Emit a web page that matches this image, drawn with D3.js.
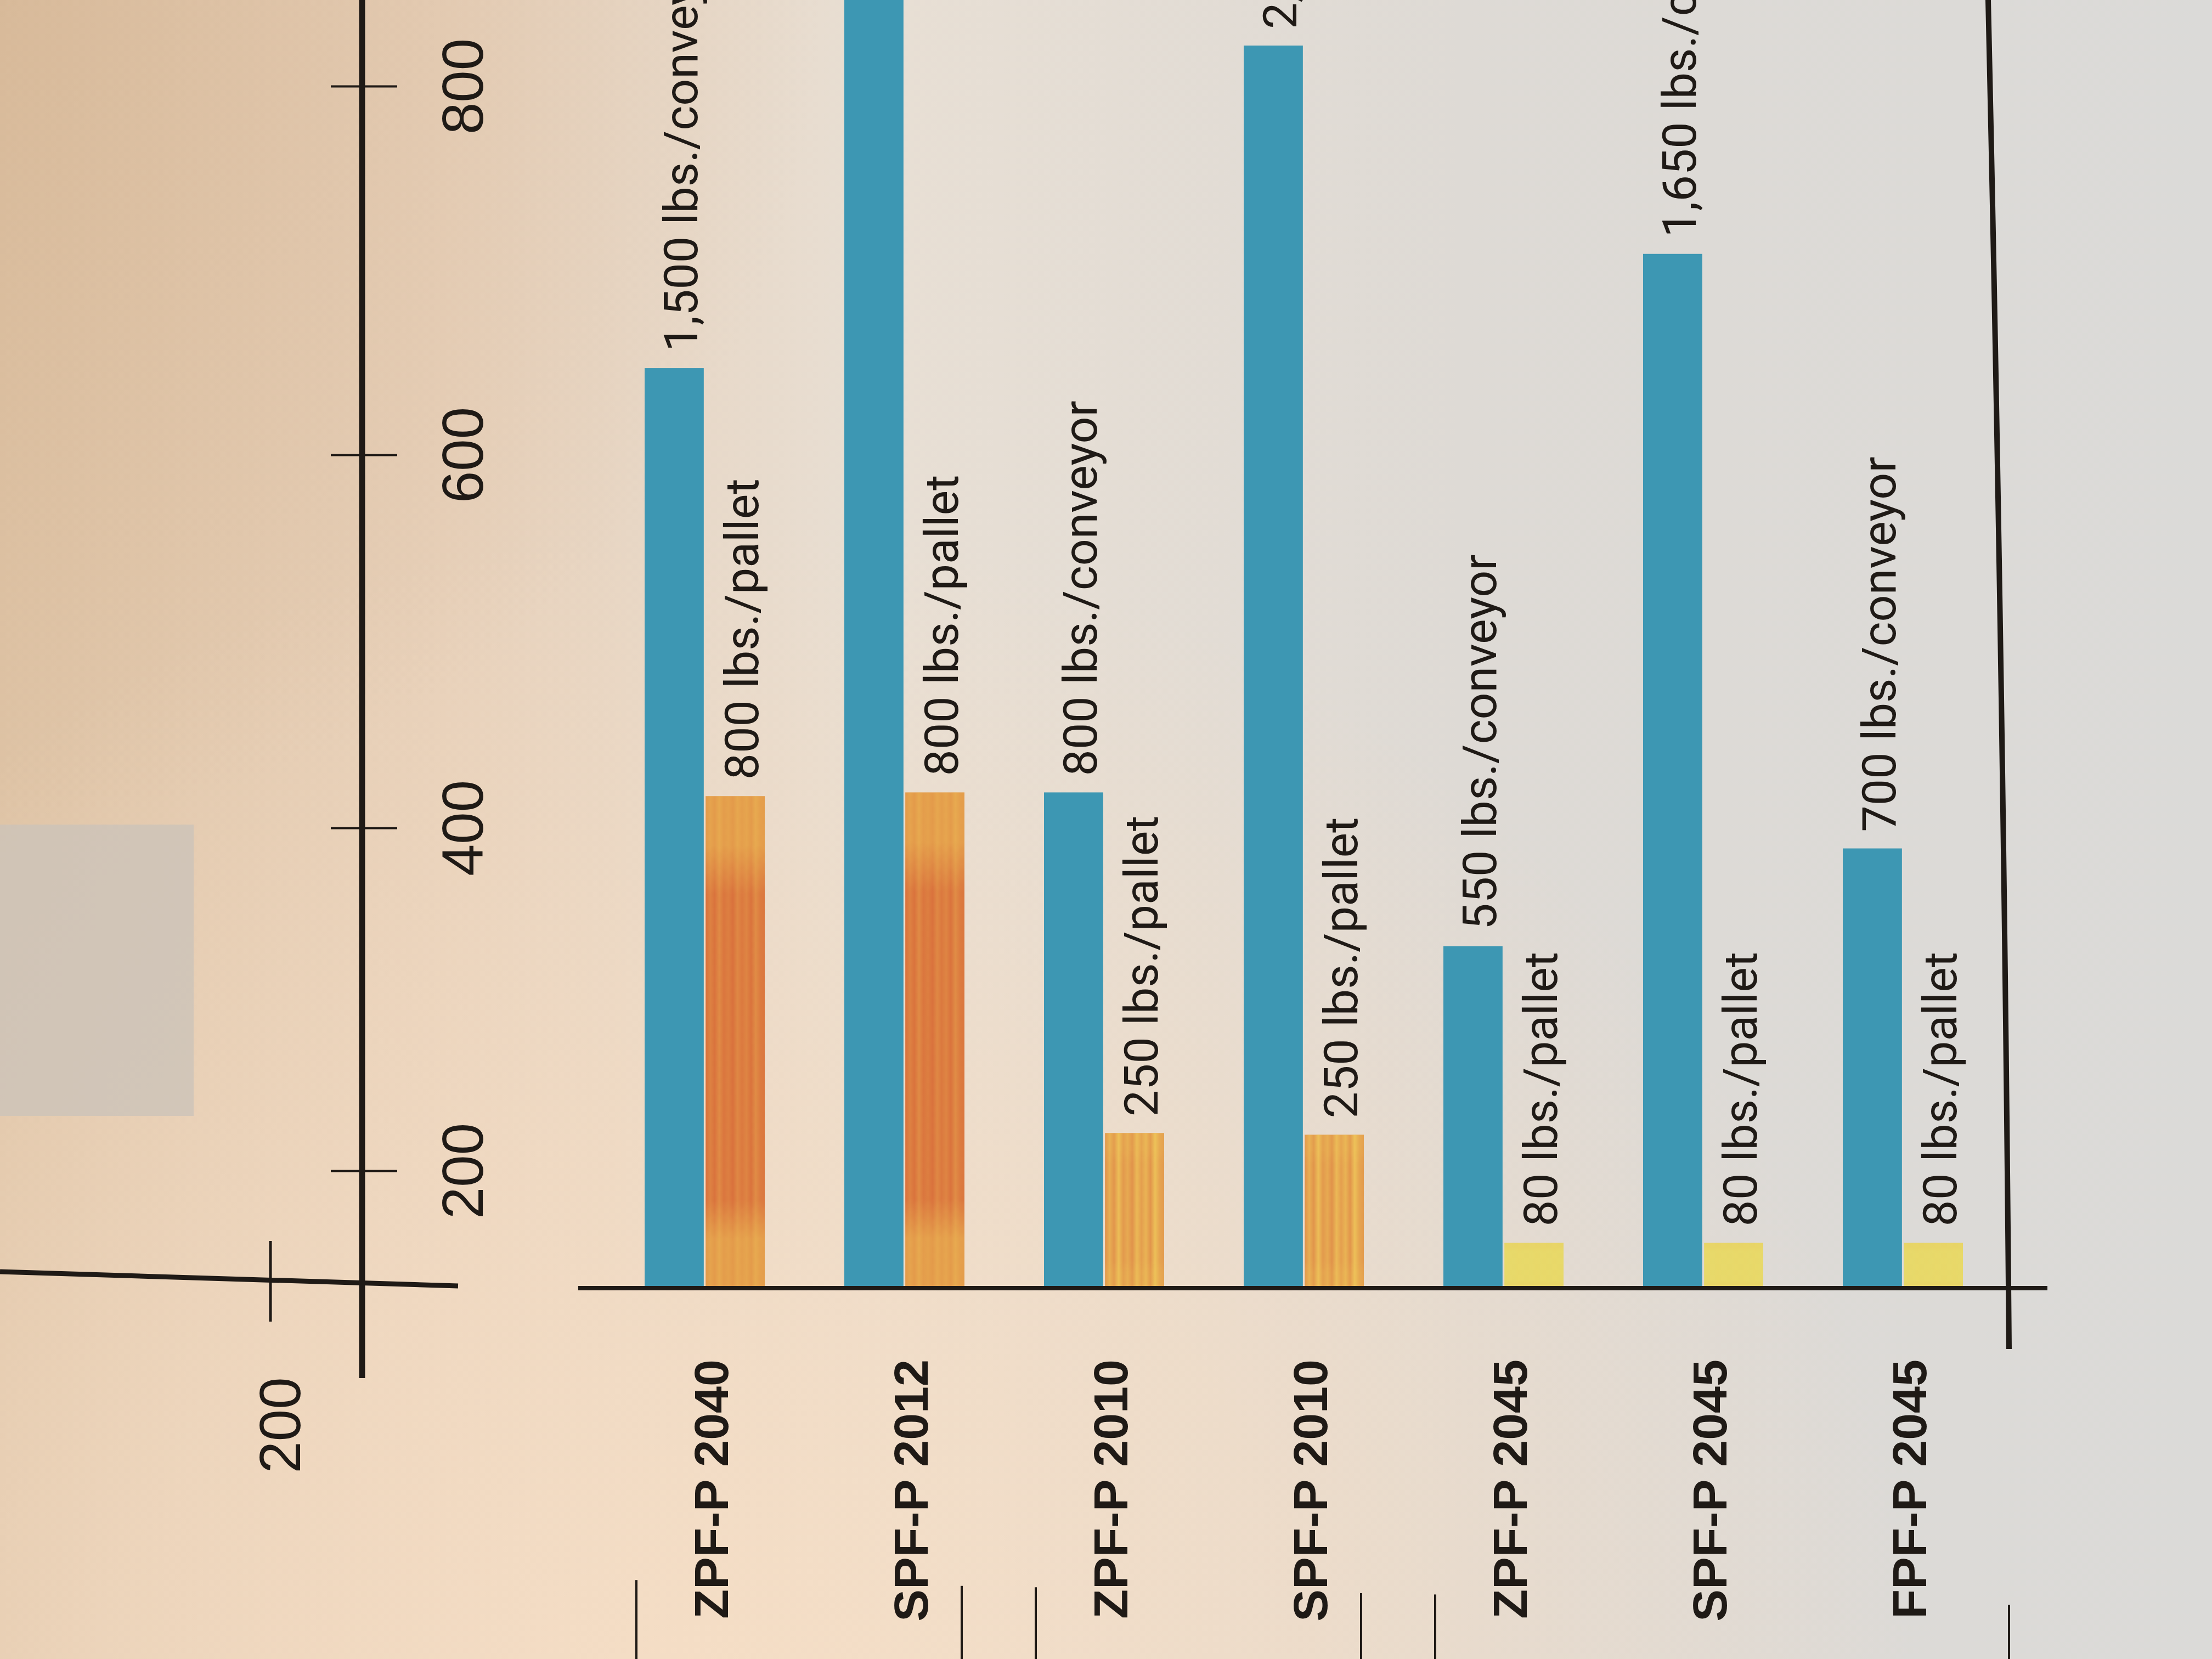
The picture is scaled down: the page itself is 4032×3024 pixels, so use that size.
<!DOCTYPE html>
<html>
<head>
<meta charset="utf-8">
<script src="https://cdn.jsdelivr.net/npm/d3@7"></script>
<style>
  html, body { margin: 0; padding: 0; overflow: hidden; background: #E3D6C8; }
  svg { display: block; }
</style>
</head>
<body>
<script>
// ---------------- DATA ----------------
const categories = ["ZPF-P 2040", "SPF-P 2012", "ZPF-P 2010", "SPF-P 2010", "ZPF-P 2045", "SPF-P 2045", "FPF-P 2045"];
// bar heights read against the printed value axis
const conveyorValues = [647, 900, 419, 822, 331, 709, 388];
const palletValues   = [417, 419, 222, 221, 157, 157, 157];
// printed annotations above the bars
const conveyorLabels = ["1,500 lbs./conveyor", "", "800 lbs./conveyor", "2,000 lbs./conveyor", "550 lbs./conveyor", "1,650 lbs./conveyor", "700 lbs./conveyor"];
const palletLabels   = ["800 lbs./pallet", "800 lbs./pallet", "250 lbs./pallet", "250 lbs./pallet", "80 lbs./pallet", "80 lbs./pallet", "80 lbs./pallet"];
const palletCapacity = [800, 800, 250, 250, 80, 80, 80];
const yTicks = [200, 400, 600, 800];
const axisBase = 130;
const tableGroups = [["ZPF-P 2040", "SPF-P 2012"], ["ZPF-P 2010", "SPF-P 2010"], ["ZPF-P 2045", "SPF-P 2045", "FPF-P 2045"]];
const neighbourTickLabels = ["200"];

// ---------------- SETUP ----------------
const W = 4032, H = 3024;
const ink = "#1F1A16";
const svg = d3.select("body").append("svg").attr("width", W).attr("height", H);
const defs = svg.append("defs");

function addStops(grad, stops) {
  stops.forEach(s => grad.append("stop").attr("offset", s[0]).attr("stop-color", s[1]).attr("stop-opacity", s[2] == null ? 1 : s[2]));
}

// paper background (photo lighting)
const bgH = defs.append("linearGradient").attr("id", "bgH").attr("x1", 0).attr("x2", 1).attr("y1", 0).attr("y2", 0);
addStops(bgH, [[0, "#DEC3A5"], [0.2, "#E7D0B9"], [0.4, "#E8DFD4"], [0.66, "#DEDAD5"], [1, "#DBDAD8"]]);
svg.append("rect").attr("width", W).attr("height", H).attr("fill", "url(#bgH)");

const bgR = defs.append("radialGradient").attr("id", "bgR").attr("gradientUnits", "userSpaceOnUse")
  .attr("cx", 1300).attr("cy", 3150).attr("r", 2200);
addStops(bgR, [[0, "#F6DEC5", 0.95], [0.5, "#F3DCC4", 0.65], [1, "#F3DCC4", 0]]);
svg.append("rect").attr("width", W).attr("height", H).attr("fill", "url(#bgR)");

const bgTL = defs.append("radialGradient").attr("id", "bgTL").attr("gradientUnits", "userSpaceOnUse")
  .attr("cx", 0).attr("cy", 0).attr("r", 1500);
addStops(bgTL, [[0, "#C9A47F", 0.3], [1, "#C9A47F", 0]]);
svg.append("rect").attr("width", W).attr("height", H).attr("fill", "url(#bgTL)");

// faint grey legend box of the neighbouring panel
svg.append("rect").attr("x", 0).attr("y", 1503).attr("width", 353).attr("height", 531)
  .attr("fill", "#CCC3B9").attr("opacity", 0.8);

// ---------------- SCALES ----------------
// the printed axis is slightly foreshortened in the photo: piecewise-linear scale through its ticks
const y = d3.scaleLinear().domain([axisBase, 200, 400, 600, 800]).range([2348, 2134, 1509, 829, 157]);
const x = d3.scaleBand().domain(categories).range([1175, 3578]).paddingInner(0.3984).paddingOuter(0);
const xs = d3.scaleBand().domain(["conveyor", "pallet"]).range([0, x.bandwidth()]).paddingInner(0.03);
const tone = d3.scaleLinear().domain([80, 250, 800]).range(["#E7D96A", "#E0904A", "#D9703C"]);
const endMix = d3.scaleLinear().domain([80, 800]).range([0.1, 0.6]);
const streakStrength = d3.scaleLinear().domain([80, 250, 800]).range([0.15, 0.75, 0.3]);

const rows = categories.map((c, i) => ({
  cat: c, conv: conveyorValues[i], pal: palletValues[i],
  convLabel: conveyorLabels[i], palLabel: palletLabels[i], cap: palletCapacity[i], i
}));

// gradients for the pallet bars
rows.forEach(d => {
  const base = tone(d.cap);
  const end = d3.interpolateRgb(base, "#EAB454")(endMix(d.cap));
  const g = defs.append("linearGradient").attr("id", "pal" + d.i).attr("x1", 0).attr("x2", 0).attr("y1", 0).attr("y2", 1);
  addStops(g, [[0, end], [0.1, end], [0.2, base], [0.82, base], [0.9, end], [1, end]]);
  const s = defs.append("linearGradient").attr("id", "str" + d.i).attr("x1", 0).attr("x2", 1).attr("y1", 0).attr("y2", 0);
  const k = streakStrength(d.cap);
  const pattern = [0, 0.6, 0.1, 0.9, 0.2, 0.5, 0.05, 0.8, 0.3, 0.7, 0.1, 0.95, 0.4, 0.2];
  pattern.forEach((o, j) => s.append("stop").attr("offset", j / (pattern.length - 1))
    .attr("stop-color", "#F2D35E").attr("stop-opacity", o * k));
});

// ---------------- NEIGHBOURING PANEL AXIS (left edge) ----------------
svg.append("line").attr("x1", 0).attr("y1", 2318).attr("x2", 835).attr("y2", 2344)
  .attr("stroke", ink).attr("stroke-width", 9);
svg.append("line").attr("x1", 493).attr("x2", 493).attr("y1", 2262).attr("y2", 2409)
  .attr("stroke", ink).attr("stroke-width", 5);
svg.selectAll(".nlab").data(neighbourTickLabels).enter().append("text")
  .attr("transform", "translate(510,2598) rotate(-90)")
  .attr("text-anchor", "middle").attr("dy", "0.35em")
  .attr("font-family", "Liberation Sans, Arial, sans-serif").attr("font-size", 105).attr("fill", ink)
  .text(d => d);

// ---------------- VALUE AXIS ----------------
const axisG = svg.append("g").attr("transform", "translate(660,0)");
axisG.call(d3.axisRight(y).tickValues(yTicks).tickSize(64).tickSizeOuter(0).tickPadding(0));
axisG.select(".domain").remove();
axisG.selectAll(".tick line").attr("x1", -57).attr("stroke", ink).attr("stroke-width", 4);
axisG.selectAll(".tick text")
  .attr("x", 0).attr("dy", 0)
  .attr("transform", "translate(220,0) rotate(-90)")
  .attr("text-anchor", "middle")
  .attr("font-family", "Liberation Sans, Arial, sans-serif").attr("font-size", 105).attr("fill", ink);
svg.append("line").attr("x1", 660).attr("x2", 660).attr("y1", 0).attr("y2", 2512)
  .attr("stroke", ink).attr("stroke-width", 11);

// ---------------- BARS ----------------
const g = svg.append("g");
const grp = g.selectAll(".grp").data(rows).enter().append("g").attr("class", "grp")
  .attr("transform", d => `translate(${x(d.cat)},0)`);

grp.append("rect")
  .attr("x", xs("conveyor")).attr("width", xs.bandwidth())
  .attr("y", d => y(d.conv)).attr("height", d => y(axisBase) - y(d.conv))
  .attr("fill", "#3D97B3");

grp.append("rect")
  .attr("x", xs("pallet")).attr("width", xs.bandwidth())
  .attr("y", d => y(d.pal)).attr("height", d => y(axisBase) - y(d.pal))
  .attr("fill", d => `url(#pal${d.i})`);
grp.append("rect")
  .attr("x", xs("pallet")).attr("width", xs.bandwidth())
  .attr("y", d => y(d.pal)).attr("height", d => y(axisBase) - y(d.pal))
  .attr("fill", d => `url(#str${d.i})`);

// value annotations
const labelFont = "Roboto, 'Liberation Sans', Arial, sans-serif";
grp.filter(d => d.convLabel).append("text")
  .attr("transform", d => `translate(${xs("conveyor") + xs.bandwidth() - 12},${y(d.conv) - 30}) rotate(-90)`)
  .attr("text-anchor", "start").attr("font-family", labelFont).attr("font-size", 86).attr("fill", ink)
  .text(d => d.convLabel);
grp.append("text")
  .attr("transform", d => `translate(${xs("pallet") + xs.bandwidth() - 12},${y(d.pal) - 30}) rotate(-90)`)
  .attr("text-anchor", "start").attr("font-family", labelFont).attr("font-size", 86).attr("fill", ink)
  .text(d => d.palLabel);

// category labels
grp.append("text")
  .attr("transform", d => `translate(${x.bandwidth() / 2 + 12},2478) rotate(-90)`)
  .attr("text-anchor", "end").attr("dy", "0.35em")
  .attr("font-family", "Liberation Sans, Arial, sans-serif").attr("font-weight", 700)
  .attr("font-size", 88).attr("fill", ink)
  .text(d => d.cat);

// baseline
svg.append("line").attr("x1", 1054).attr("x2", 3732).attr("y1", y(axisBase)).attr("y2", y(axisBase))
  .attr("stroke", ink).attr("stroke-width", 8);

// right frame line (slightly curved paper)
const frameTopX = 3624, frameBottomX = 3662, frameBottomY = 2459;
svg.append("path").attr("d", `M${frameTopX},0 Q3652,1250 ${frameBottomX},${frameBottomY}`)
  .attr("fill", "none").attr("stroke", ink).attr("stroke-width", 10);

// table separators under the category labels
const sepX = [];
tableGroups.forEach((gp, gi) => {
  sepX.push(x(gp[0]) - 15);
  sepX.push(gi === tableGroups.length - 1 ? frameBottomX : x(gp[gp.length - 1]) + x.bandwidth() - 5);
});
svg.selectAll(".sep").data(sepX).enter().append("line")
  .attr("x1", d => d).attr("x2", d => d).attr("y1", d => 2880 + (d - 1150) * 0.018).attr("y2", H)
  .attr("stroke", ink).attr("stroke-width", 4);
</script>
</body>
</html>
